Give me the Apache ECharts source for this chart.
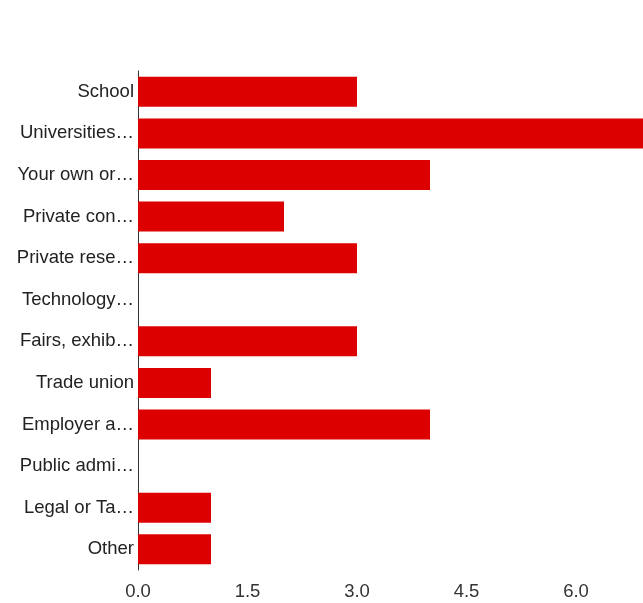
<!DOCTYPE html>
<html>
<head>
<meta charset="utf-8">
<script src="https://cdn.jsdelivr.net/npm/echarts@6/dist/echarts.min.js"></script>
<style>
  html, body { margin: 0; padding: 0; background: #ffffff; overflow: hidden; }
  #chart { width: 643px; height: 603px; }
</style>
</head>
<body>
<div id="chart"></div>
<script>
// Response categories, top to bottom
const categories = [
  'School',
  'Universities…',
  'Your own or…',
  'Private con…',
  'Private rese…',
  'Technology…',
  'Fairs, exhib…',
  'Trade union',
  'Employer a…',
  'Public admi…',
  'Legal or Ta…',
  'Other'
];

// Number of responses per category
const counts = [3, 7, 4, 2, 3, 0, 3, 1, 4, 0, 1, 1];

// Value-axis ticks
const tickMin = 0;
const tickMax = 7.5;
const tickStep = 1.5;

const chart = echarts.init(document.getElementById('chart'), null, { renderer: 'canvas' });

const labelFont = 'Liberation Sans, Arial, Helvetica, sans-serif';

chart.setOption({
  animation: false,
  backgroundColor: '#ffffff',
  // the plot runs past the right edge of the canvas
  grid: {
    left: 138, width: 547.5, top: 71, bottom: 33,
    containLabel: false,
    outerBoundsMode: 'none'
  },
  xAxis: {
    type: 'value',
    min: tickMin,
    max: tickMax,
    interval: tickStep,
    axisLine: { show: false },
    axisTick: { show: false },
    splitLine: { show: false },
    axisLabel: {
      margin: 12,
      color: '#333333',
      fontFamily: labelFont,
      fontSize: 18.5,
      formatter: v => v.toFixed(1)
    }
  },
  yAxis: {
    type: 'category',
    data: categories,
    inverse: true,
    axisLine: { show: true, lineStyle: { color: '#333333', width: 1 } },
    axisTick: { show: false },
    splitLine: { show: false },
    axisLabel: {
      margin: 4,
      color: '#222222',
      fontFamily: labelFont,
      fontSize: 18.5
    }
  },
  series: [{
    type: 'bar',
    data: counts,
    barWidth: 30,
    itemStyle: { color: '#dc0000' },
    z: 1
  }]
});
</script>
</body>
</html>
